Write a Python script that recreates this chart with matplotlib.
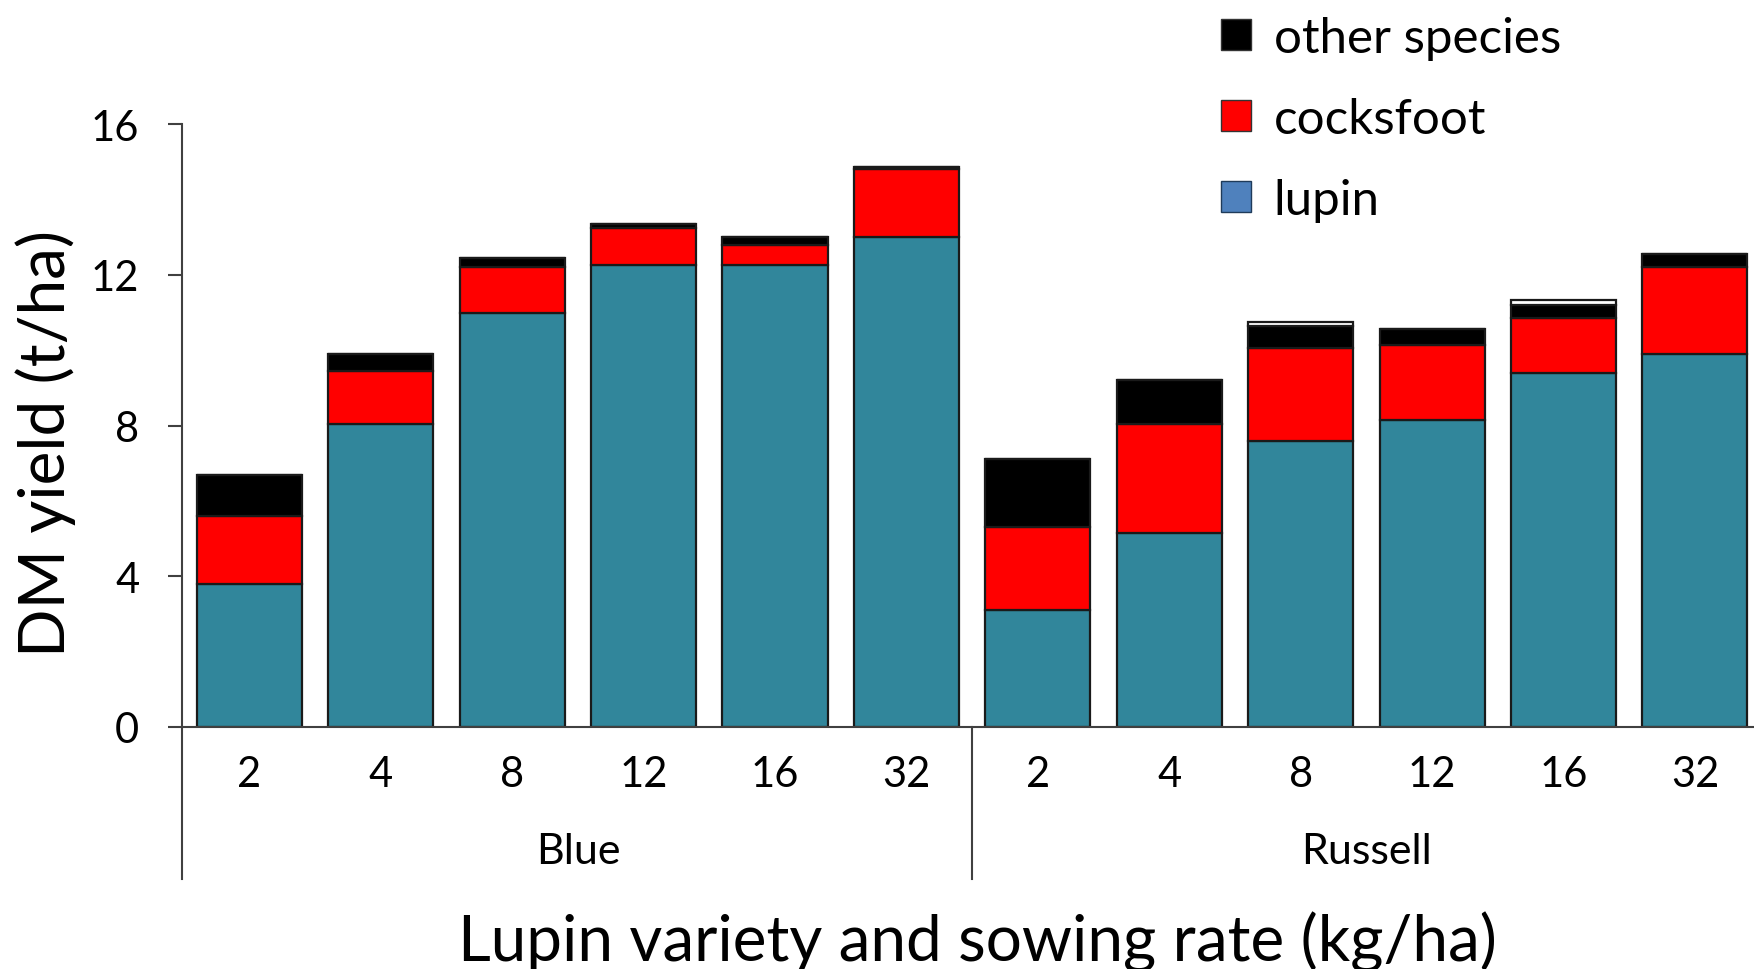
import numpy as np
import matplotlib.pyplot as plt
from matplotlib.patches import Patch

plt.rcParams['font.family'] = ['Lato', 'DejaVu Sans']

# lupin varieties and sowing rates (kg/ha)
varieties = ["Blue", "Russell"]
rates = ["2", "4", "8", "12", "16", "32"]

# DM yield components (t/ha), Blue x6 then Russell x6
lupin = [3.8, 8.05, 11.0, 12.25, 12.25, 13.0, 3.1, 5.15, 7.6, 8.15, 9.4, 9.9]
cocksfoot = [1.8, 1.4, 1.2, 1.0, 0.55, 1.8, 2.2, 2.9, 2.45, 2.0, 1.45, 2.3]
other = [1.1, 0.45, 0.25, 0.1, 0.2, 0.05, 1.8, 1.15, 0.6, 0.4, 0.35, 0.35]
blank = [0, 0, 0, 0, 0, 0, 0, 0, 0.1, 0, 0.12, 0]

teal = "#31869B"
edge = "#1a1a1a"

fig = plt.figure(figsize=(17.54, 9.70), dpi=100)
ax = fig.add_axes([0.104, 0.2495, 0.896, 0.6215])

x = np.arange(len(lupin))
b1 = np.array(lupin)
b2 = b1 + np.array(cocksfoot)
b3 = b2 + np.array(other)
kw = dict(width=0.8, edgecolor=edge, linewidth=1.6)
ax.bar(x, lupin, color=teal, **kw)
ax.bar(x, cocksfoot, bottom=b1, color="#FF0000", **kw)
ax.bar(x, other, bottom=b2, color="black", **kw)
ax.bar(x, blank, bottom=b3, color="white", **kw)

ax.set_xlim(-0.51, 11.45)
ax.set_ylim(0, 16)
ax.set_yticks([0, 4, 8, 12, 16])
ax.set_xticks(x)
ax.set_xticklabels(rates * 2)
ax.tick_params(axis='y', direction='out', length=10, width=1.5, pad=21,
               labelsize=30, color="#404040")
ax.tick_params(axis='x', length=0, pad=20, labelsize=30)

for s in ["top", "right"]:
    ax.spines[s].set_visible(False)
ax.spines["left"].set_color("#404040")
ax.spines["left"].set_linewidth(1.5)
ax.spines["bottom"].set_color("#404040")
ax.spines["bottom"].set_linewidth(1.5)

# extended group separators below the axis
trans = ax.get_xaxis_transform()
for xv in [-0.51, 5.5]:
    ax.plot([xv, xv], [0, -0.252], transform=trans, color="#404040",
            lw=1.5, clip_on=False)
for i, name in enumerate(varieties):
    ax.text(2.5 + 6 * i, -0.205, name, transform=trans, ha="center",
            va="center", fontsize=31)

fig.text(0.026, 0.543, "DM yield (t/ha)", rotation=90, ha="center",
         va="center", fontsize=46)
fig.text(0.557, 0.028, "Lupin variety and sowing rate (kg/ha)", ha="center",
         va="center", fontsize=46)

handles = [Patch(facecolor="black", edgecolor="#333333"),
           Patch(facecolor="#FF0000", edgecolor="#333333"),
           Patch(facecolor="#4F81BD", edgecolor="#1F3B5A")]
fig.legend(handles, ["other species", "cocksfoot", "lupin"],
           loc="upper left", bbox_to_anchor=(0.671, 1.028), frameon=False,
           fontsize=35.5, handlelength=0.6, handleheight=0.6,
           handletextpad=0.46, labelspacing=0.75)

fig.savefig("out.png", dpi=100)
